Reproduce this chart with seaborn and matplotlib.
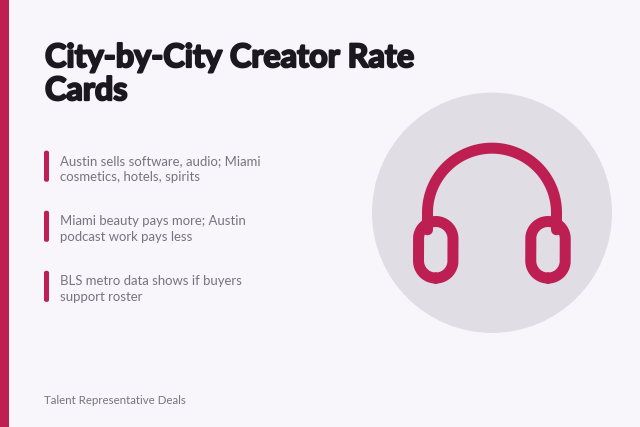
import numpy as np
import seaborn as sns
import matplotlib.pyplot as plt
import matplotlib.patheffects as pe
from matplotlib.patches import Circle, FancyBboxPatch, Rectangle

title_lines = ["City-by-City Creator Rate", "Cards"]
bullets = [
    ["Austin sells software, audio; Miami", "cosmetics, hotels, spirits"],
    ["Miami beauty pays more; Austin", "podcast work pays less"],
    ["BLS metro data shows if buyers", "support roster"],
]
footer = "Talent Representative Deals"

bg = "#f8f6fa"
accent = "#bd1f52"
dark = "#1c1820"
grey = "#77747e"
disc = "#e0dde4"

sns.set_theme(style="white")
plt.rcParams["font.family"] = ["Lato", "DejaVu Sans"]

fig = plt.figure(figsize=(6.4, 4.275), dpi=100, facecolor=bg)
ax = fig.add_axes([0, 0, 1, 1])
ax.set_xlim(0, 640)
ax.set_ylim(427, 0)
ax.axis("off")

ax.add_patch(Rectangle((0, 0), 9, 427, color=accent, lw=0))

# title
for i, line in enumerate(title_lines):
    ax.text(45, 58 + i * 33, line, fontsize=23.3, fontweight="bold", color=dark,
            va="center", ha="left",
            path_effects=[pe.withStroke(linewidth=1.5, foreground=dark)])

# bullets
for i, lines in enumerate(bullets):
    top = 151 + i * 60
    ax.add_patch(FancyBboxPatch((44 + 2, top + 2), 1, 27, boxstyle="round,pad=2,rounding_size=2",
                                fc=accent, ec="none"))
    for j, line in enumerate(lines):
        ax.text(60, top + 10 + j * 16, line, fontsize=9.47, color=grey,
                va="center", ha="left")

ax.text(44, 400.5, footer, fontsize=8.25, color=grey, va="center", ha="left")

# headphones
ax.add_patch(Circle((492, 213), 120, fc=disc, ec="none"))
lw = 11 * 0.72
theta = np.linspace(np.pi, 2 * np.pi, 120)
band_x = 492 + 64.5 * np.cos(theta)
band_y = 213 + 64.5 * np.sin(theta)
ax.plot(np.r_[band_x[0], band_x, band_x[-1]], np.r_[230, band_y, 230],
        color=accent, lw=lw, solid_capstyle="round", solid_joinstyle="round")
# ear cups, true half circles at both ends, seam at the bottom
t = np.linspace(0.5 * np.pi, 2.5 * np.pi, 241)
for cx in (435.75, 548):
    cup_x = cx + 17.25 * np.cos(t)
    cup_y = np.where(np.sin(t) < 0, 239, 261) + 17.25 * np.sin(t)
    ax.plot(cup_x, cup_y, color=accent, lw=lw, solid_joinstyle="round", solid_capstyle="round")

fig.savefig("out.png", dpi=100, facecolor=bg)
